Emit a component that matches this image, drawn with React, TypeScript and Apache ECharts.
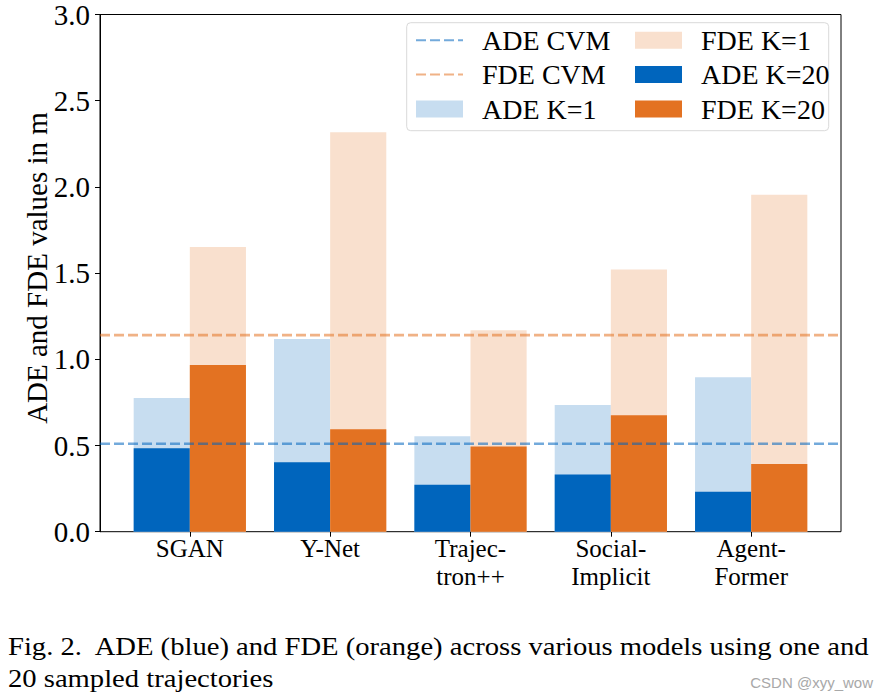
import React, { useEffect, useRef } from "react";
import * as echarts from "echarts";

const categories = ["SGAN", "Y-Net", "Trajec-\ntron++", "Social-\nImplicit", "Agent-\nFormer"];
const adeK1 = [0.77, 1.11, 0.55, 0.73, 0.89];
const fdeK1 = [1.64, 2.30, 1.16, 1.51, 1.94];
const adeK20 = [0.48, 0.40, 0.27, 0.33, 0.23];
const fdeK20 = [0.96, 0.59, 0.49, 0.67, 0.39];
const adeCVM = 0.51;
const fdeCVM = 1.14;
const yAxisTitle = "ADE and FDE values in m";

const SERIF = "'Times New Roman', 'Liberation Serif', Times, serif";
const BLUE = "#0065BD";
const ORANGE = "#E37222";
const LBLUE = "#C7DDF0";
const LORANGE = "#F9E0CE";
const BLUE_DASH = "rgba(0,101,189,0.55)";
const ORANGE_DASH = "rgba(227,114,34,0.55)";

export default function App() {
  const ref = useRef<HTMLDivElement>(null);
  useEffect(() => {
    if (!ref.current) return;
    const chart = echarts.init(ref.current, undefined, { renderer: "svg" });
    const plotLeft = 100;
    const plotTop = 10.7;
    const plotW = 741;
    const plotH = 521;
    const unit = plotW / 5.28;
    const barsLeft = plotLeft + 0.14 * unit;
    const barW = 0.4 * unit;
    const gridBottom = 695 - (plotTop + plotH);
    const legendText = { fontFamily: SERIF, fontSize: 28, color: "#000", lineHeight: 25, padding: [0, 0, 0, 14] };
    const hiddenSym = { color: "rgba(0,0,0,0)", borderWidth: 0, borderColor: "rgba(0,0,0,0)" };
    chart.setOption({
      animation: false,
      grid: [
        { left: plotLeft, top: plotTop, width: plotW, bottom: gridBottom, show: true, borderColor: "#000", borderWidth: 1, backgroundColor: "transparent" },
        { left: barsLeft, top: plotTop, width: 5 * unit, bottom: gridBottom },
      ],
      xAxis: [
        { type: "value", gridIndex: 0, min: 0, max: 1, show: false },
        {
          type: "category", gridIndex: 1, data: categories, boundaryGap: true,
          axisLine: { show: false },
          axisTick: { show: true, alignWithLabel: true, length: 5, lineStyle: { color: "#000" } },
          axisLabel: { fontFamily: SERIF, fontSize: 25, color: "#000", lineHeight: 28, margin: 3 },
        },
        { type: "category", gridIndex: 1, data: categories, show: false },
      ],
      yAxis: [
        {
          type: "value", gridIndex: 0, min: 0, max: 3, interval: 0.5,
          axisLine: { show: true, lineStyle: { color: "#000" } },
          axisTick: { show: true, length: 5, lineStyle: { color: "#000" } },
          axisLabel: { fontFamily: SERIF, fontSize: 29, color: "#000", margin: 10, formatter: (v: number) => v.toFixed(1) },
          splitLine: { show: false },
        },
        { type: "value", gridIndex: 1, min: 0, max: 3, show: false },
      ],
      legend: [
        {
          data: [
            { name: "ADE CVM", itemStyle: hiddenSym },
            { name: "FDE CVM", itemStyle: hiddenSym },
            { name: "ADE K=1", icon: "rect" },
          ],
          orient: "vertical", left: 415, top: 26.2, padding: 0,
          itemWidth: 47, itemHeight: 17, itemGap: 6.4, textStyle: legendText, selectedMode: false,
        },
        {
          data: [
            { name: "FDE K=1", icon: "rect" },
            { name: "ADE K=20", icon: "rect" },
            { name: "FDE K=20", icon: "rect" },
          ],
          orient: "vertical", left: 635, top: 26.2, padding: 0,
          itemWidth: 47, itemHeight: 17, itemGap: 6.4, textStyle: legendText, selectedMode: false,
        },
      ],
      graphic: [
        { type: "rect", shape: { x: 406.7, y: 22.7, width: 422, height: 108, r: 4 }, style: { fill: "rgba(255,255,255,0.8)", stroke: "#d9d9d9", lineWidth: 1 }, z: 3 },
        { type: "text", x: 37, y: 268, rotation: Math.PI / 2, style: { text: yAxisTitle, font: `29px ${SERIF}`, fill: "#000", align: "center", verticalAlign: "middle" } },
        { type: "text", x: 8, y: 634, scaleX: 1.145, style: { text: "Fig. 2.  ADE (blue) and FDE (orange) across various models using one and", font: `25px ${SERIF}`, fill: "#000", verticalAlign: "top" } },
        { type: "text", x: 8, y: 666, scaleX: 1.145, style: { text: "20 sampled trajectories", font: `25px ${SERIF}`, fill: "#000", verticalAlign: "top" } },
        { type: "text", x: 873, y: 682, style: { text: "CSDN @xyy_wow", font: `15px 'Liberation Sans Narrow', 'Liberation Sans', sans-serif`, fill: "#a8a8a8", align: "right", verticalAlign: "middle" } },
      ],
      series: [
        { name: "ADE K=1", type: "bar", xAxisIndex: 1, yAxisIndex: 1, data: adeK1, barWidth: barW, barGap: "0%", itemStyle: { color: LBLUE } },
        { name: "FDE K=1", type: "bar", xAxisIndex: 1, yAxisIndex: 1, data: fdeK1, barWidth: barW, barGap: "0%", itemStyle: { color: LORANGE } },
        { name: "ADE K=20", type: "bar", xAxisIndex: 2, yAxisIndex: 1, data: adeK20, barWidth: barW, barGap: "0%", itemStyle: { color: BLUE } },
        { name: "FDE K=20", type: "bar", xAxisIndex: 2, yAxisIndex: 1, data: fdeK20, barWidth: barW, barGap: "0%", itemStyle: { color: ORANGE } },
        {
          name: "ADE CVM", type: "line", xAxisIndex: 0, yAxisIndex: 0, data: [[0, adeCVM], [1, adeCVM]],
          symbol: "none", lineStyle: { color: BLUE_DASH, width: 2.6, type: [10, 4] }, itemStyle: { color: BLUE_DASH }, z: 5,
        },
        {
          name: "FDE CVM", type: "line", xAxisIndex: 0, yAxisIndex: 0, data: [[0, fdeCVM], [1, fdeCVM]],
          symbol: "none", lineStyle: { color: ORANGE_DASH, width: 2.6, type: [10, 4] }, itemStyle: { color: ORANGE_DASH }, z: 5,
        },
      ],
    });
    return () => chart.dispose();
  }, []);
  return <div ref={ref} style={{ position: "fixed", left: 0, top: 0, width: 878, height: 695, background: "#fff" }} />;
}
